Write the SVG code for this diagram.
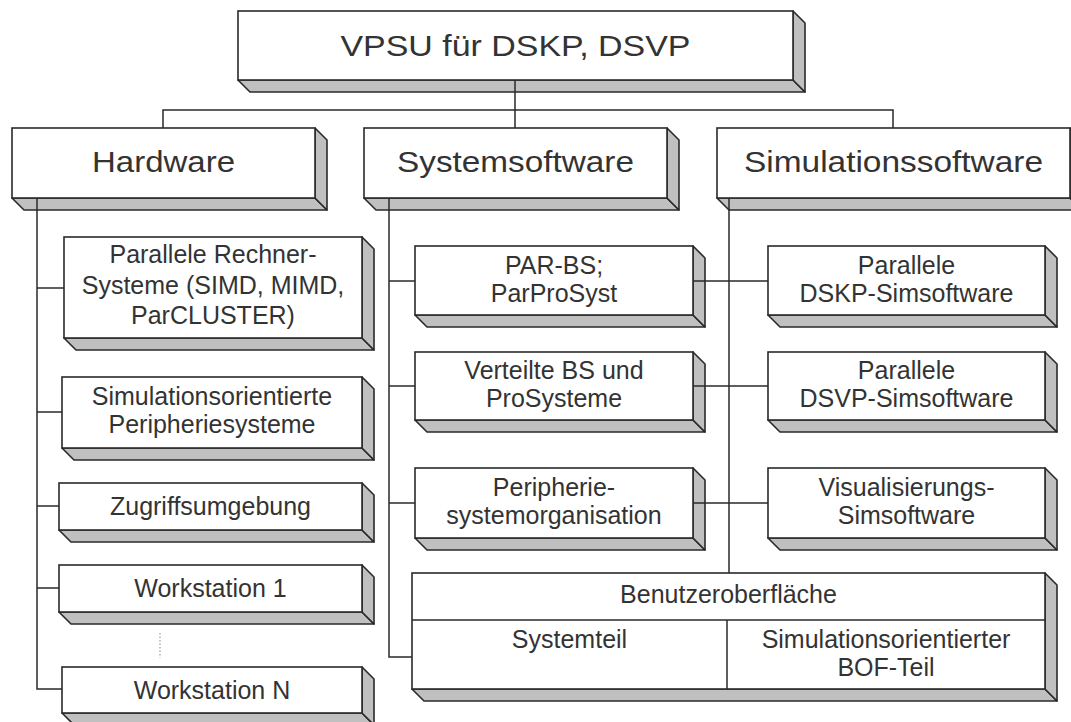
<svg xmlns="http://www.w3.org/2000/svg" width="1071" height="722" viewBox="0 0 1071 722">
<style>
.f{fill:#fff;stroke:#2a2a2a;stroke-width:1.6}
.s{fill:#c0c0c0;stroke:#2a2a2a;stroke-width:1.6;stroke-linejoin:round}
.c{fill:none;stroke:#2a2a2a;stroke-width:1.5}
.d{fill:none;stroke:#9a9a9a;stroke-width:1.2;stroke-dasharray:1.5 2}
text{font-family:"Liberation Sans",Arial,sans-serif;fill:#333;text-anchor:middle}
.b{font-size:30px}
.t{font-size:25px}
</style>
<rect width="1071" height="722" fill="#fff"/>

<g id="n-root">
<polygon class="s" points="238,80 793,80 805,92 250,92"/>
<polygon class="s" points="793,11 805,23 805,92 793,80"/>
<rect class="f" x="238" y="11" width="555" height="69"/>
<text class="b" x="515.5" y="56" textLength="350" lengthAdjust="spacingAndGlyphs">VPSU für DSKP, DSVP</text>
</g>

<g id="n-hardware">
<polygon class="s" points="12,198 315,198 327,210 24,210"/>
<polygon class="s" points="315,128 327,140 327,210 315,198"/>
<rect class="f" x="12" y="128" width="303" height="70"/>
<text class="b" x="163.5" y="172" textLength="143" lengthAdjust="spacingAndGlyphs">Hardware</text>
</g>

<g id="n-systemsoftware">
<polygon class="s" points="364,198 667,198 679,210 376,210"/>
<polygon class="s" points="667,128 679,140 679,210 667,198"/>
<rect class="f" x="364" y="128" width="303" height="70"/>
<text class="b" x="515.5" y="172" textLength="237" lengthAdjust="spacingAndGlyphs">Systemsoftware</text>
</g>

<g id="n-simulationssoftware">
<polygon class="s" points="717,198 1070,198 1082,210 729,210"/>
<polygon class="s" points="1070,128 1082,140 1082,210 1070,198"/>
<rect class="f" x="717" y="128" width="353" height="70"/>
<text class="b" x="893.5" y="172" textLength="299" lengthAdjust="spacingAndGlyphs">Simulationssoftware</text>
</g>

<g id="n-parallele-rechner">
<polygon class="s" points="64,338 362,338 374,350 76,350"/>
<polygon class="s" points="362,237 374,249 374,350 362,338"/>
<rect class="f" x="64" y="237" width="298" height="101"/>
<text class="t" x="213" y="263">Parallele Rechner-</text>
<text class="t" x="213" y="294">Systeme (SIMD, MIMD,</text>
<text class="t" x="213" y="324">ParCLUSTER)</text>
</g>

<g id="n-peripheriesysteme">
<polygon class="s" points="62,448 362,448 374,460 74,460"/>
<polygon class="s" points="362,377 374,389 374,460 362,448"/>
<rect class="f" x="62" y="377" width="300" height="71"/>
<text class="t" x="212" y="405">Simulationsorientierte</text>
<text class="t" x="212" y="433">Peripheriesysteme</text>
</g>

<g id="n-zugriffsumgebung">
<polygon class="s" points="59,530 362,530 374,542 71,542"/>
<polygon class="s" points="362,483 374,495 374,542 362,530"/>
<rect class="f" x="59" y="483" width="303" height="47"/>
<text class="t" x="210.5" y="515">Zugriffsumgebung</text>
</g>

<g id="n-workstation1">
<polygon class="s" points="59,612 362,612 374,624 71,624"/>
<polygon class="s" points="362,565 374,577 374,624 362,612"/>
<rect class="f" x="59" y="565" width="303" height="47"/>
<text class="t" x="210.5" y="597">Workstation 1</text>
</g>

<g id="n-workstationN">
<polygon class="s" points="62,713 362,713 374,725 74,725"/>
<polygon class="s" points="362,667 374,679 374,725 362,713"/>
<rect class="f" x="62" y="667" width="300" height="46"/>
<text class="t" x="212" y="699">Workstation N</text>
</g>

<g id="n-parbs">
<polygon class="s" points="415,315 693,315 705,327 427,327"/>
<polygon class="s" points="693,246 705,258 705,327 693,315"/>
<rect class="f" x="415" y="246" width="278" height="69"/>
<text class="t" x="554" y="274">PAR-BS;</text>
<text class="t" x="554" y="302">ParProSyst</text>
</g>

<g id="n-verteilte">
<polygon class="s" points="415,420 693,420 705,432 427,432"/>
<polygon class="s" points="693,352 705,364 705,432 693,420"/>
<rect class="f" x="415" y="352" width="278" height="68"/>
<text class="t" x="554" y="379">Verteilte BS und</text>
<text class="t" x="554" y="407">ProSysteme</text>
</g>

<g id="n-peripherieorg">
<polygon class="s" points="415,538 693,538 705,550 427,550"/>
<polygon class="s" points="693,468 705,480 705,550 693,538"/>
<rect class="f" x="415" y="468" width="278" height="70"/>
<text class="t" x="554" y="496">Peripherie-</text>
<text class="t" x="554" y="524">systemorganisation</text>
</g>

<g id="n-dskp">
<polygon class="s" points="768,315 1045,315 1057,327 780,327"/>
<polygon class="s" points="1045,246 1057,258 1057,327 1045,315"/>
<rect class="f" x="768" y="246" width="277" height="69"/>
<text class="t" x="906.5" y="274">Parallele</text>
<text class="t" x="906.5" y="302">DSKP-Simsoftware</text>
</g>

<g id="n-dsvp">
<polygon class="s" points="768,420 1045,420 1057,432 780,432"/>
<polygon class="s" points="1045,352 1057,364 1057,432 1045,420"/>
<rect class="f" x="768" y="352" width="277" height="68"/>
<text class="t" x="906.5" y="379">Parallele</text>
<text class="t" x="906.5" y="407">DSVP-Simsoftware</text>
</g>

<g id="n-visualisierung">
<polygon class="s" points="768,538 1045,538 1057,550 780,550"/>
<polygon class="s" points="1045,468 1057,480 1057,550 1045,538"/>
<rect class="f" x="768" y="468" width="277" height="70"/>
<text class="t" x="906.5" y="496">Visualisierungs-</text>
<text class="t" x="906.5" y="524">Simsoftware</text>
</g>

<g id="n-benutzeroberflaeche">
<polygon class="s" points="412,689 1045,689 1057,701 424,701"/>
<polygon class="s" points="1045,573 1057,585 1057,701 1045,689"/>
<rect class="f" x="412" y="573" width="633" height="116"/>
<line class="c" x1="412" y1="620" x2="1045" y2="620"/>
<line class="c" x1="727" y1="620" x2="727" y2="689"/>
<text class="t" x="728.5" y="603">Benutzeroberfläche</text>
<text class="t" x="569.5" y="648">Systemteil</text>
<text class="t" x="886" y="648">Simulationsorientierter</text>
<text class="t" x="886" y="676">BOF-Teil</text>
</g>

<g id="connectors">
<polyline class="c" points="515,80 515,128"/>
<polyline class="c" points="163,128 163,110 893,110 893,128"/>
<polyline class="c" points="37,198 37,689 62,689"/>
<line class="c" x1="37" y1="288" x2="64" y2="288"/>
<line class="c" x1="37" y1="412" x2="62" y2="412"/>
<line class="c" x1="37" y1="506" x2="59" y2="506"/>
<line class="c" x1="37" y1="588" x2="59" y2="588"/>
<line class="d" x1="160" y1="633" x2="160" y2="658"/>
<polyline class="c" points="389,198 389,657 412,657"/>
<line class="c" x1="389" y1="281" x2="415" y2="281"/>
<line class="c" x1="389" y1="386" x2="415" y2="386"/>
<line class="c" x1="389" y1="503" x2="415" y2="503"/>
<line class="c" x1="729" y1="198" x2="729" y2="573"/>
<line class="c" x1="693" y1="281" x2="768" y2="281"/>
<line class="c" x1="693" y1="386" x2="768" y2="386"/>
<line class="c" x1="693" y1="503" x2="768" y2="503"/>
</g>
</svg>
